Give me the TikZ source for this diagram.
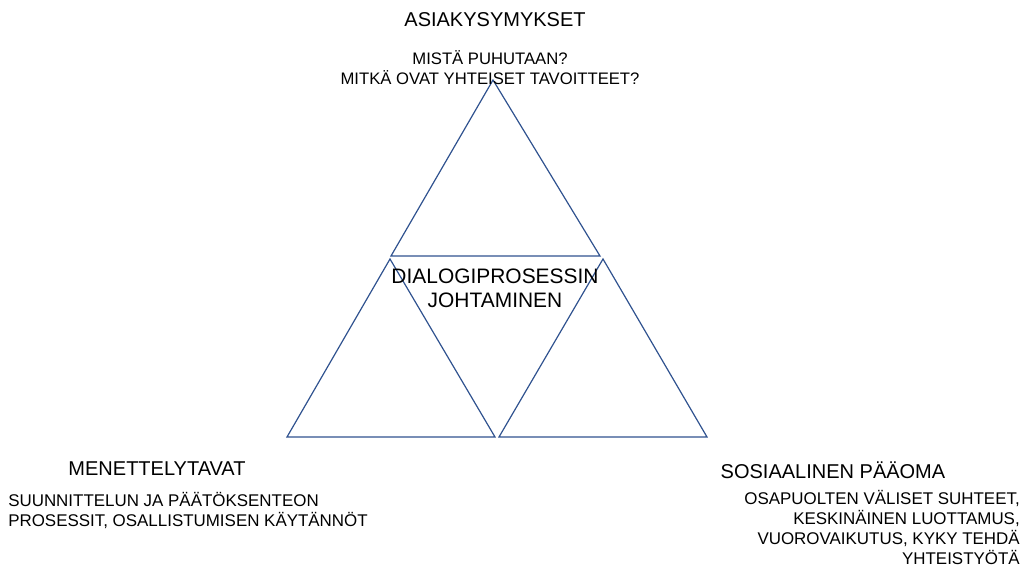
\documentclass[tikz,border=0pt]{standalone}
\usepackage{fontspec}
\setmainfont{Liberation Sans}
\definecolor{edgeblue}{HTML}{2F528F}

\begin{document}
\begin{tikzpicture}[x=0.75pt,y=-0.75pt,
 every node/.style = {inner sep=0pt, align=center},
 heading/.style = {font=\fontsize{15}{18}\selectfont},
 detail/.style = {font=\fontsize{12.5}{15}\selectfont},
 tri/.style = {draw=edgeblue, line width=0.9pt, line join=miter}]
 \useasboundingbox (0,0) rectangle (1026,567);
 % the three triangles
 \draw[tri] (493,80) -- (600,256) -- (391,256) -- cycle;
 \draw[tri] (390,259) -- (495,437) -- (287,437) -- cycle;
 \draw[tri] (603,259) -- (707,437) -- (499,437) -- cycle;
 % labels
 \node[heading] (asiakys) at (495,20) {ASIAKYSYMYKSET};
 \node[detail] (asiakysteksti) at (490,68) {MISTÄ PUHUTAAN?\\MITKÄ OVAT YHTEISET TAVOITTEET?};
 \node[heading, font=\fontsize{15.7}{18}\selectfont] (johtaminen) at (495,288) {DIALOGIPROSESSIN\\JOHTAMINEN};
 \node[heading] (menettely) at (157,469) {MENETTELYTAVAT};
 \node[detail, font=\fontsize{12.7}{15}\selectfont, align=left, anchor=west] (menettelyteksti) at (8,510) {SUUNNITTELUN JA PÄÄTÖKSENTEON\\PROSESSIT, OSALLISTUMISEN KÄYTÄNNÖT};
 \node[heading] (paaoma) at (833,470) {SOSIAALINEN PÄÄOMA};
 \node[detail, font=\fontsize{12.7}{15}\selectfont, align=right, anchor=east] (paaomateksti) at (1020,527) {OSAPUOLTEN VÄLISET SUHTEET,\\KESKINÄINEN LUOTTAMUS,\\VUOROVAIKUTUS, KYKY TEHDÄ\\YHTEISTYÖTÄ};
\end{tikzpicture}
\end{document}
